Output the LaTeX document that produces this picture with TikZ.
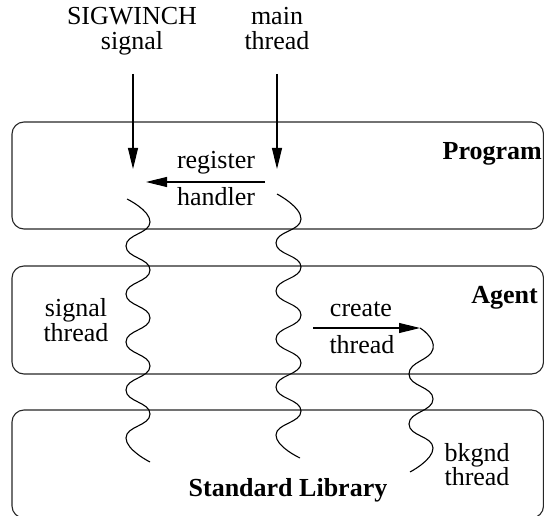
\documentclass[tikz,border=0pt]{standalone}
\usepackage{fontspec}
\setmainfont{Liberation Serif}
\usetikzlibrary{arrows.meta}
\begin{document}
\begin{tikzpicture}[x=1pt,y=-1pt,
  lbl/.style={font=\fontsize{26}{26}\selectfont, anchor=base, inner sep=0pt},
  stack/.style={lbl, align=center, font=\fontsize{26}{#1}\selectfont},
  blbl/.style={lbl, font=\fontsize{26}{26}\selectfont\bfseries},
  layer/.style={draw=black!85, line width=1.1pt, rounded corners=12pt},
  arr/.style={-{Triangle[length=21pt,width=10pt]}, line width=1.1pt},
  wave/.style={line width=1.1pt}]
\useasboundingbox (0,0) rectangle (544,516);

% layers
\draw[layer] (12,122) rectangle (543.5,229);
\draw[layer] (12,266) rectangle (543.5,374);
\draw[layer] (12,410) rectangle (543.5,518);

% layer titles
\node[blbl, anchor=base east] (prog) at (542,160) {Program};
\node[blbl, anchor=base east] (agent) at (538,303) {Agent};
\node[blbl] (stdlib) at (288,496) {Standard Library};

% top labels (base = baseline of last line)
\node[stack=25] (sig) at (132,50) {SIGWINCH\\signal};
\node[stack=25] (main) at (277,50) {main\\thread};

% other labels
\node[lbl] (reg) at (216,169) {register};
\node[lbl] (hand) at (216,206) {handler};
\node[stack=25] (st) at (76,341) {signal\\thread};
\node[lbl] (cr1) at (361,316) {create};
\node[lbl] (cr2) at (362,353) {thread};
\node[stack=24] (bk) at (477,485) {bkgnd\\thread};

% coordinates for arrows
\coordinate (sigA) at (133,74);
\coordinate (sigB) at (133,169);
\coordinate (mainA) at (277,74);
\coordinate (mainB) at (277,169);
\coordinate (regA) at (265,182);
\coordinate (regB) at (146,182);
\coordinate (crA) at (313,328);
\coordinate (crB) at (420,328);

\draw[arr] (sigA) -- (sigB);
\draw[arr] (mainA) -- (mainB);
\draw[arr] (regA) -- (regB);
\draw[arr] (crA) -- (crB);

% threads
\draw[wave] plot[smooth, tension=0.9] coordinates {(127,199) (150,222) (126,246) (150,270) (126,294) (150,318) (126,342) (150,366) (126,390) (150,414) (126,438) (150,462)};
\draw[wave] plot[smooth, tension=0.9] coordinates {(277,194) (301,219) (276,243) (301,267) (276,291) (301,315) (276,339) (301,363) (276,387) (301,411) (276,435) (300,458)};
\draw[wave] plot[smooth, tension=0.9] coordinates {(420,328) (433,349) (409,374) (433,399) (409,424) (433,448) (410,472)};
\end{tikzpicture}
\end{document}
